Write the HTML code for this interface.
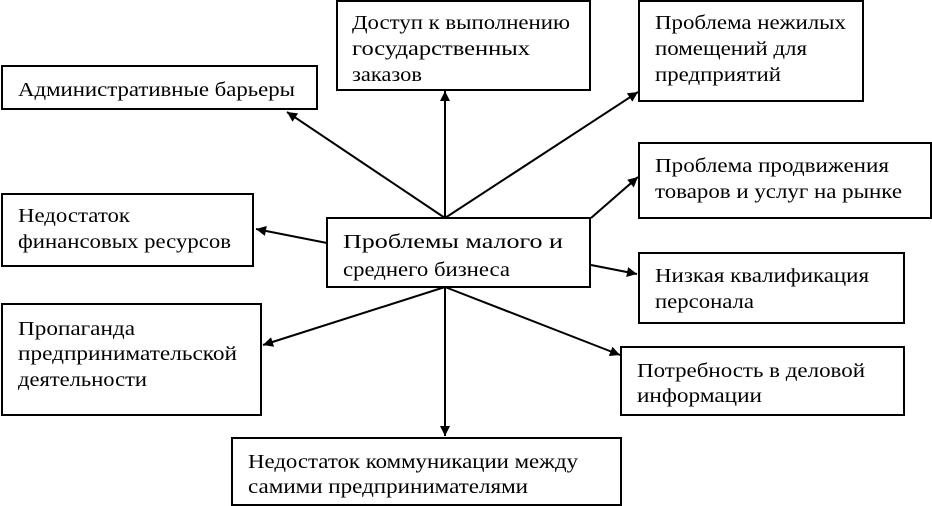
<!DOCTYPE html>
<html><head><meta charset="utf-8"><style>html,body{margin:0;padding:0;background:#fff}svg{display:block}</style></head>
<body>
<svg width="932" height="506" xmlns="http://www.w3.org/2000/svg" font-family="'Liberation Serif', serif" font-size="20" fill="#000">
<defs><marker id="a" viewBox="0 0 10 10" refX="10" refY="5" markerWidth="12" markerHeight="10" markerUnits="userSpaceOnUse" orient="auto"><path d="M0,0 L10,5 L0,10 z" fill="#000"/></marker></defs>
<g fill="none" stroke="#000" stroke-width="2">
<rect x="2" y="66" width="315" height="43"/>
<rect x="337" y="1" width="253" height="89"/>
<rect x="639" y="1" width="224" height="100"/>
<rect x="639" y="143" width="292" height="75"/>
<rect x="2" y="194" width="251" height="72"/>
<rect x="327" y="218" width="263" height="69"/>
<rect x="639" y="253" width="265" height="70"/>
<rect x="2" y="304" width="259" height="111"/>
<rect x="621" y="347" width="283" height="68"/>
<rect x="232" y="438" width="389" height="67"/>
</g>
<g stroke="#000" stroke-width="2" marker-end="url(#a)">
<line x1="445" y1="218" x2="287" y2="112"/>
<line x1="445" y1="218" x2="445" y2="91"/>
<line x1="445" y1="218" x2="638" y2="92"/>
<line x1="591" y1="218" x2="638" y2="177"/>
<line x1="327" y1="243" x2="256" y2="229"/>
<line x1="591" y1="265" x2="637" y2="274"/>
<line x1="445" y1="287" x2="263" y2="345"/>
<line x1="445" y1="287" x2="620" y2="355"/>
<line x1="445" y1="287" x2="445" y2="436"/>
</g>
<g lengthAdjust="spacingAndGlyphs">
<text x="18" y="96" textLength="277" lengthAdjust="spacingAndGlyphs">Административные барьеры</text>
<text x="352" y="29" textLength="218" lengthAdjust="spacingAndGlyphs">Доступ к выполнению</text>
<text x="352" y="55" textLength="178" lengthAdjust="spacingAndGlyphs">государственных</text>
<text x="352" y="81" textLength="70" lengthAdjust="spacingAndGlyphs">заказов</text>
<text x="655" y="29" textLength="191" lengthAdjust="spacingAndGlyphs">Проблема нежилых</text>
<text x="655" y="55" textLength="152" lengthAdjust="spacingAndGlyphs">помещений для</text>
<text x="655" y="81" textLength="126" lengthAdjust="spacingAndGlyphs">предприятий</text>
<text x="655" y="172" textLength="234" lengthAdjust="spacingAndGlyphs">Проблема продвижения</text>
<text x="655" y="198" textLength="247" lengthAdjust="spacingAndGlyphs">товаров и услуг на рынке</text>
<text x="18" y="222" textLength="112" lengthAdjust="spacingAndGlyphs">Недостаток</text>
<text x="18" y="248" textLength="213" lengthAdjust="spacingAndGlyphs">финансовых ресурсов</text>
<text x="343" y="248" textLength="220" lengthAdjust="spacingAndGlyphs">Проблемы малого и</text>
<text x="343" y="276" textLength="167" lengthAdjust="spacingAndGlyphs">среднего бизнеса</text>
<text x="655" y="282" textLength="214" lengthAdjust="spacingAndGlyphs">Низкая квалификация</text>
<text x="655" y="308" textLength="99" lengthAdjust="spacingAndGlyphs">персонала</text>
<text x="18" y="335" textLength="117" lengthAdjust="spacingAndGlyphs">Пропаганда</text>
<text x="18" y="360" textLength="219" lengthAdjust="spacingAndGlyphs">предпринимательской</text>
<text x="18" y="386" textLength="129" lengthAdjust="spacingAndGlyphs">деятельности</text>
<text x="637" y="377" textLength="228" lengthAdjust="spacingAndGlyphs">Потребность в деловой</text>
<text x="637" y="402" textLength="125" lengthAdjust="spacingAndGlyphs">информации</text>
<text x="248" y="468" textLength="330" lengthAdjust="spacingAndGlyphs">Недостаток коммуникации между</text>
<text x="248" y="493" textLength="280" lengthAdjust="spacingAndGlyphs">самими предпринимателями</text>
</g>
</svg>
</body></html>
